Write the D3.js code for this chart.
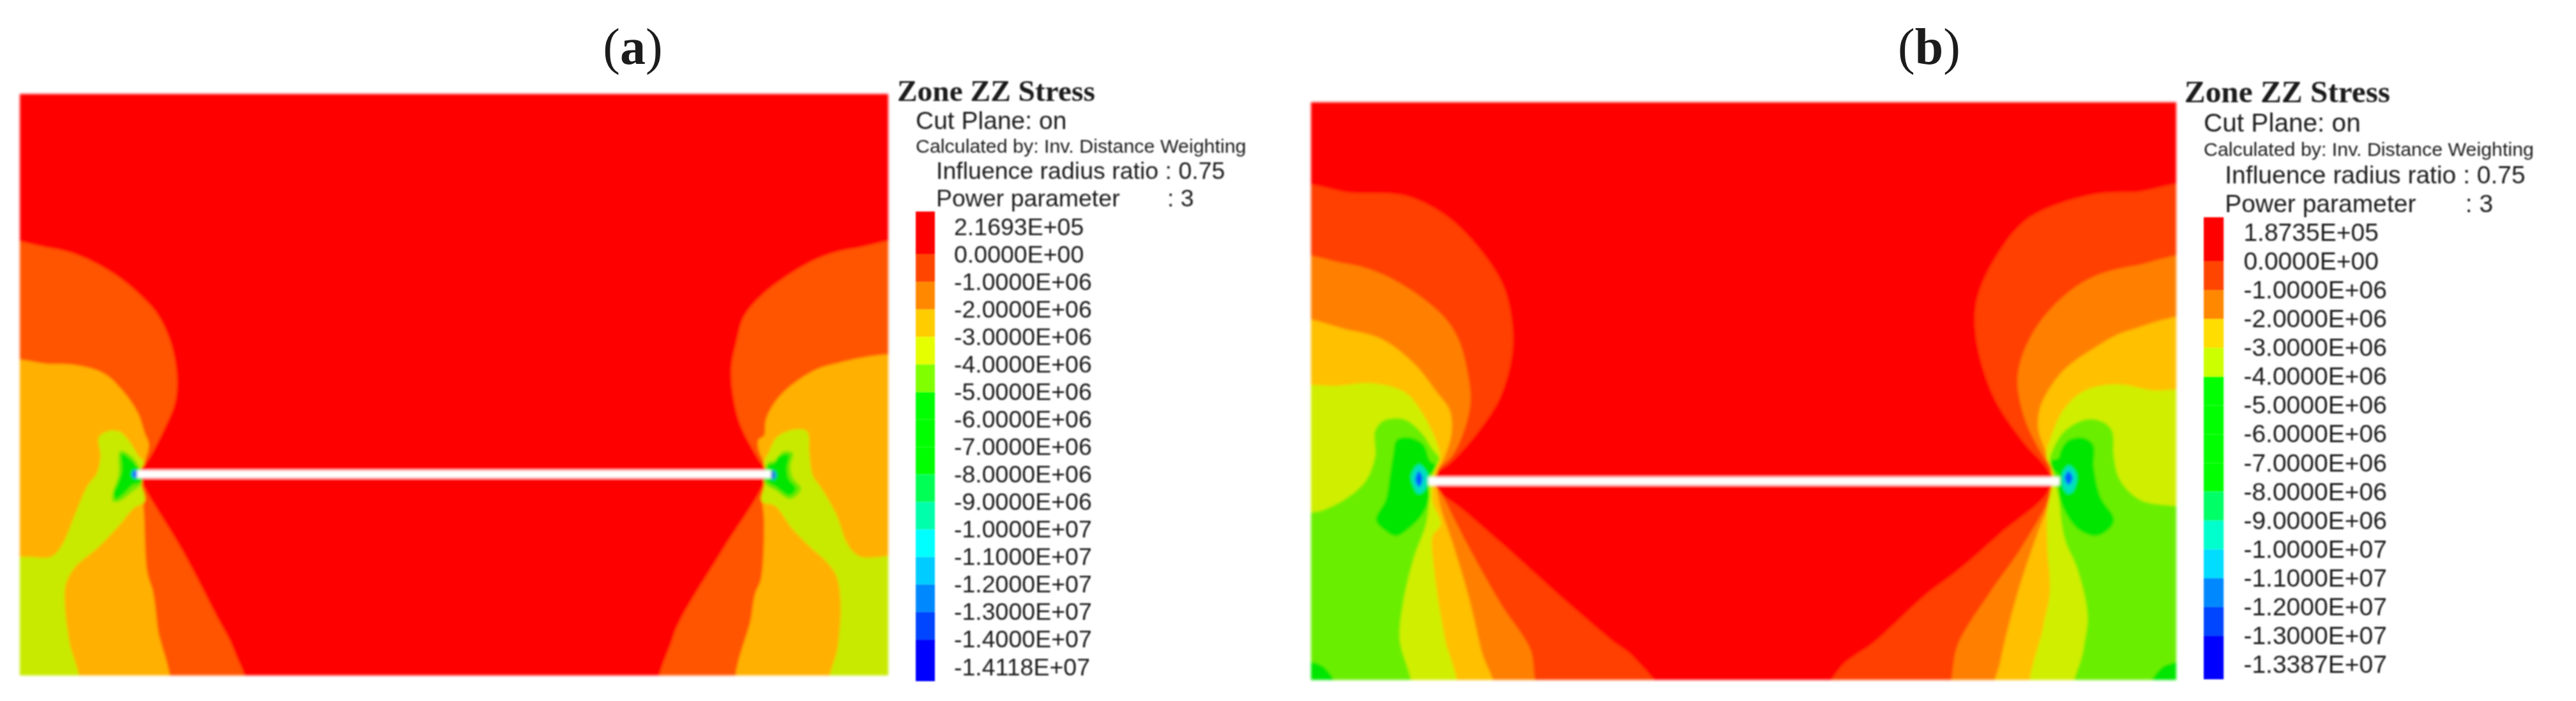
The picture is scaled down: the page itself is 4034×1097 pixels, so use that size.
<!DOCTYPE html>
<html>
<head>
<meta charset="utf-8">
<style>
  html, body { margin: 0; padding: 0; background: #fff; }
  text { fill: #1c1c1c; }
  .sans { font-family: "Liberation Sans", Arial, sans-serif; }
  .serif { font-family: "Liberation Serif", "Times New Roman", serif; }
</style>
<script src="https://cdn.jsdelivr.net/npm/d3@7"></script>
</head>
<body>
<svg id="chart" width="4034" height="1097"></svg>
<script>
// legend values
const aLabels = ['2.1693E+05', '0.0000E+00', '-1.0000E+06', '-2.0000E+06', '-3.0000E+06', '-4.0000E+06', '-5.0000E+06', '-6.0000E+06', '-7.0000E+06', '-8.0000E+06', '-9.0000E+06', '-1.0000E+07', '-1.1000E+07', '-1.2000E+07', '-1.3000E+07', '-1.4000E+07', '-1.4118E+07'];
const bLabels = ['1.8735E+05', '0.0000E+00', '-1.0000E+06', '-2.0000E+06', '-3.0000E+06', '-4.0000E+06', '-5.0000E+06', '-6.0000E+06', '-7.0000E+06', '-8.0000E+06', '-9.0000E+06', '-1.0000E+07', '-1.1000E+07', '-1.2000E+07', '-1.3000E+07', '-1.3387E+07'];
const aBarColors = ['#ff0000', '#ff4400', '#ff8800', '#ffcc00', '#e6ff00', '#80ff00', '#00ff00', '#00ff00', '#00ff00', '#00ff55', '#00ffaa', '#00ffff', '#00ccff', '#0088ff', '#0044ff', '#0000ff'];
const bBarColors = ['#ff0000', '#ff4400', '#ff8800', '#ffdd00', '#ccff00', '#00ff00', '#00ff00', '#00ff00', '#00ff00', '#00ff66', '#00ffcc', '#00ddff', '#0088ff', '#0044ff', '#0000ff'];

// contour outlines, model units, outermost band first
const aOrangeRedLeft = [[-20,553],[60,555],[100,575],[140,615],[170,660],[192,705],[208,770],[215,840],[213,900],[200,960],[185,1015],[172,1058],[173,1079],[223,1237],[262,1375],[285,1458],[297,1560],[-20,1560]];
const aOrangeRedRight = [[1125,553],[1040,556],[1000,575],[960,615],[925,665],[905,710],[897,760],[890,832],[899,941],[922,1025],[930,1049],[930,1079],[881,1227],[829,1385],[818,1434],[805,1560],[1125,1560]];
const aAmberLeft = [[-20,820],[62,815],[93,818],[127,837],[150,877],[168,926],[176,970],[181,995],[176,1034],[171,1052],[173,1098],[175,1148],[179,1280],[186,1325],[192,1409],[202,1560],[-20,1560]];
const aAmberRight = [[1125,817],[1010,817],[971,852],[945,896],[932,941],[930,975],[923,985],[923,1005],[930,1039],[932,1062],[928,1118],[930,1172],[926,1298],[919,1330],[914,1385],[900,1560],[1125,1560]];
const aYellowLeft = [[-20,1256],[31,1247],[62,1247],[75,1222],[91,1153],[106,1089],[118,1059],[122,1020],[120,980],[130,966],[145,966],[158,990],[168,1020],[175,1035],[171,1054],[171,1079],[176,1123],[163,1138],[145,1177],[119,1227],[91,1271],[80,1310],[79,1360],[84,1434],[95,1560],[-20,1560]];
const aYellowRight = [[1125,1256],[1046,1246],[1031,1217],[1018,1153],[1000,1094],[989,1064],[985,1015],[982,966],[963,963],[945,980],[935,1015],[930,1034],[932,1062],[930,1089],[927,1123],[943,1133],[963,1182],[984,1222],[1007,1261],[1018,1291],[1023,1350],[1020,1444],[1010,1560],[1125,1560]];
const aLimeLeft = [[146,1010],[159,1020],[171,1054],[172,1084],[163,1099],[145,1123],[137,1123],[137,1104],[144,1064]];
const aLimeRight = [[935,1036],[945,1030],[952,1012],[965,1014],[962,1045],[965,1070],[975,1095],[962,1118],[945,1100],[930,1080]];
const aGreenLeft = [[148,1016],[157,1025],[170,1054],[172,1080],[161,1087],[153,1102],[141,1118],[138,1105],[143,1084],[148,1054]];
const aGreenRight = [[933,1042],[942,1037],[947,1022],[960,1018],[958,1049],[960,1072],[969,1094],[961,1110],[945,1092],[933,1076],[937,1059]];
const aBlueLeft = [[164,1052],[168,1062],[164,1072],[160,1062]];
const aBlueRight = [[941,1053],[945,1064],[941,1075],[937,1064]];
const aCrack = [[167,1062],[938,1062]];

const bOrangeRedLeft = [[-20,427],[80,432],[142,438],[190,480],[230,550],[262,640],[273,730],[272,800],[258,890],[230,970],[195,1040],[172,1068],[172,1085],[207,1133],[259,1215],[311,1301],[349,1363],[395,1435],[420,1470],[455,1570],[-20,1570]];
const bOrangeRedRight = [[1125,427],[1030,430],[975,437],[900,490],[860,580],[840,660],[836,715],[841,791],[860,893],[893,985],[927,1062],[924,1103],[867,1194],[816,1276],[777,1330],[715,1435],[672,1495],[655,1570],[1125,1570]];
const bOrangeLeft = [[-20,585],[70,590],[110,610],[150,650],[190,710],[208,762],[220,850],[222,900],[215,960],[200,1020],[176,1068],[189,1113],[220,1225],[259,1352],[295,1454],[300,1515],[305,1570],[-20,1570]];
const bOrangeRight = [[1125,585],[1030,595],[980,620],[940,670],[905,750],[888,842],[896,934],[914,1006],[928,1052],[927,1108],[893,1225],[854,1327],[815,1444],[808,1515],[804,1570],[1125,1570]];
const bGoldLeft = [[-20,725],[77,740],[116,761],[155,817],[181,878],[197,919],[199,970],[191,1021],[181,1062],[184,1123],[202,1225],[220,1337],[235,1454],[250,1570],[-20,1570]];
const bGoldRight = [[1125,722],[1023,740],[984,776],[945,827],[924,878],[915,915],[913,960],[922,1011],[929,1052],[927,1118],[911,1200],[888,1327],[867,1480],[860,1570],[1125,1570]];
const bYellowLeft = [[-20,886],[64,863],[103,858],[142,878],[165,929],[184,1006],[185,1026],[178,1060],[176,1123],[186,1174],[176,1200],[178,1276],[186,1378],[191,1429],[202,1570],[-20,1570]];
const bYellowRight = [[1125,892],[1049,873],[1010,860],[971,873],[945,914],[929,975],[923,1021],[931,1057],[924,1148],[924,1225],[927,1327],[919,1403],[908,1570],[1125,1570]];
const bLimeLeft = [[-20,1165],[41,1143],[77,1108],[96,1072],[106,1021],[106,965],[116,942],[142,939],[163,970],[176,1006],[184,1026],[180,1046],[173,1072],[172,1118],[168,1174],[153,1250],[140,1352],[136,1429],[148,1570],[-20,1570]];
const bLimeRight = [[1125,1165],[1036,1118],[1012,1072],[1005,1021],[1003,965],[992,945],[971,939],[945,965],[931,1006],[927,1031],[932,1062],[937,1103],[945,1205],[961,1276],[973,1378],[968,1454],[958,1570],[1125,1570]];
const bGreenLeft = [[132,985],[147,979],[165,995],[173,1031],[180,1041],[177,1057],[171,1067],[172,1113],[165,1148],[153,1174],[132,1200],[119,1189],[107,1164],[119,1118],[124,1062],[128,1016]];
const bGreenRight = [[950,985],[968,980],[980,995],[981,1047],[989,1113],[1005,1159],[1003,1177],[984,1200],[961,1184],[945,1143],[937,1097],[939,1067],[929,1047],[929,1031],[937,1026],[941,1006]];
const bCornerLeft = [[-20,1560],[-20,1490],[36,1485],[52,1510],[62,1560]];
const bCornerRight = [[1125,1560],[1125,1480],[1074,1485],[1060,1500],[1045,1560]];
const bCyanLeft = [[159,1040],[167,1052],[171,1072],[165,1100],[158,1105],[152,1085],[150,1065]];
const bCyanRight = [[950,1042],[958,1055],[960,1072],[955,1100],[949,1105],[942,1085],[942,1062]];
const bBlueLeft = [[159,1055],[164,1070],[160,1090],[155,1075]];
const bBlueRight = [[950,1055],[955,1070],[950,1085],[945,1070]];
const bCrack = [[171,1077],[939,1077]];

const svg = d3.select('#chart');
const defs = svg.append('defs');
defs.append('filter').attr('id', 'soft').attr('x', '-2%').attr('y', '-2%').attr('width', '104%').attr('height', '104%')
  .append('feGaussianBlur').attr('stdDeviation', 2.2);
defs.append('filter').attr('id', 'softText').attr('x', '-5%').attr('y', '-5%').attr('width', '110%').attr('height', '110%')
  .append('feGaussianBlur').attr('stdDeviation', 0.9);

function drawPanel(p) {
  const x = d3.scaleLinear().domain(p.xDomain).range(p.xRange);
  const y = d3.scaleLinear().domain(p.yDomain).range(p.yRange);
  const outline = d3.line().x(d => x(d[0])).y(d => y(d[1])).curve(d3.curveCatmullRomClosed.alpha(0.5));

  defs.append('clipPath').attr('id', 'clip' + p.id).append('rect')
    .attr('x', p.xRange[0]).attr('y', p.yRange[0])
    .attr('width', p.xRange[1] - p.xRange[0]).attr('height', p.yRange[1] - p.yRange[0]);

  const map = svg.append('g').attr('filter', 'url(#soft)')
    .append('g').attr('clip-path', 'url(#clip' + p.id + ')');
  map.append('rect').attr('x', p.xRange[0]).attr('y', p.yRange[0])
    .attr('width', p.xRange[1] - p.xRange[0]).attr('height', p.yRange[1] - p.yRange[0])
    .attr('fill', '#ff0000');
  map.selectAll('path.band').data(p.bands).join('path').attr('class', 'band')
    .attr('d', d => outline(d.points)).attr('fill', d => d.color);
  map.append('line')
    .attr('x1', x(p.crack[0][0])).attr('y1', y(p.crack[0][1]))
    .attr('x2', x(p.crack[1][0])).attr('y2', y(p.crack[1][1]))
    .attr('stroke', '#fff').attr('stroke-width', p.crackWidth);

  // panel letter, bold inside plain brackets
  const letter = svg.append('text').attr('class', 'serif').attr('x', p.letterX).attr('y', 100)
    .attr('text-anchor', 'middle').attr('font-size', 80);
  letter.append('tspan').text('(');
  letter.append('tspan').attr('font-weight', 'bold').text(p.letter);
  letter.append('tspan').text(')');

  // legend
  const lg = svg.append('g').attr('filter', 'url(#softText)');
  const k = p.legendScale;
  lg.append('text').attr('class', 'serif').attr('x', p.legendX - 29 * k).attr('y', p.legendTop - 173 * k)
    .attr('font-weight', 'bold').attr('font-size', 47.4 * k).text('Zone ZZ Stress');
  const note = (txt, dx, dy, size) => lg.append('text').attr('class', 'sans')
    .attr('x', p.legendX + dx * k).attr('y', p.legendTop + dy * k).attr('font-size', size * k).text(txt);
  note('Cut Plane: on', 0, -129, 39);
  note('Calculated by: Inv. Distance Weighting', 0, -92, p.calcSize);
  note('Influence radius ratio : 0.75', 32, -51, 37.5);
  note('Power parameter', 32, -8, 37.5);
  note(': 3', 394, -8, 37.5);

  const yBar = d3.scalePoint().domain(p.labels).range(p.labelRange);
  const barW = 30 * k;
  const edge = (i) => {
    if (i === 0) return p.legendTop;
    if (i === p.labels.length - 1) return p.legendBottom;
    return yBar(p.labels[i]);
  };
  lg.selectAll('rect.seg').data(p.barColors).join('rect').attr('class', 'seg')
    .attr('x', p.legendX).attr('width', barW)
    .attr('y', (d, i) => edge(i)).attr('height', (d, i) => edge(i + 1) - edge(i))
    .attr('fill', d => d);

  const axis = d3.axisRight(yBar).tickSize(0).tickPadding(60 * k);
  const ag = lg.append('g').attr('class', 'sans').attr('transform', 'translate(' + p.legendX + ',0)').call(axis);
  ag.select('.domain').remove();
  ag.selectAll('text').attr('font-size', 37.5 * k).attr('font-family', '"Liberation Sans", Arial, sans-serif');
}

drawPanel({
  id: 'A', letter: 'a', letterX: 991,
  xDomain: [24, 1081], yDomain: [210, 1513], xRange: [31, 1391], yRange: [147, 1057],
  crack: aCrack, crackWidth: 12,
  bands: [
    { points: aOrangeRedLeft, color: '#ff5500' }, { points: aOrangeRedRight, color: '#ff5500' },
    { points: aAmberLeft, color: '#ffb000' }, { points: aAmberRight, color: '#ffb000' },
    { points: aYellowLeft, color: '#c8ea00' }, { points: aYellowRight, color: '#c8ea00' },
    { points: aLimeLeft, color: '#70e800' }, { points: aLimeRight, color: '#70e800' },
    { points: aGreenLeft, color: '#00e600' }, { points: aGreenRight, color: '#00e600' },
    { points: aBlueLeft, color: '#1a80ff' }, { points: aBlueRight, color: '#1a90e0' }
  ],
  labels: aLabels, barColors: aBarColors, labelRange: [355, 1044], calcSize: 30.4,
  legendX: 1434, legendTop: 331, legendBottom: 1066, legendScale: 1
});

drawPanel({
  id: 'B', letter: 'b', letterX: 3021,
  xDomain: [28, 1081], yDomain: [229, 1522], xRange: [2053, 3408], yRange: [160, 1064],
  crack: bCrack, crackWidth: 13,
  bands: [
    { points: bOrangeRedLeft, color: '#ff4000' }, { points: bOrangeRedRight, color: '#ff4000' },
    { points: bOrangeLeft, color: '#ff8000' }, { points: bOrangeRight, color: '#ff8000' },
    { points: bGoldLeft, color: '#ffc000' }, { points: bGoldRight, color: '#ffc000' },
    { points: bYellowLeft, color: '#d0ee00' }, { points: bYellowRight, color: '#d0ee00' },
    { points: bLimeLeft, color: '#6aee00' }, { points: bLimeRight, color: '#6aee00' },
    { points: bGreenLeft, color: '#00e600' }, { points: bGreenRight, color: '#00e600' },
    { points: bCornerLeft, color: '#00e600' }, { points: bCornerRight, color: '#00e600' },
    { points: bCyanLeft, color: '#00e0c0' }, { points: bCyanRight, color: '#00e0c0' },
    { points: bBlueLeft, color: '#0060ff' }, { points: bBlueRight, color: '#0060ff' }
  ],
  labels: bLabels, barColors: bBarColors, labelRange: [364, 1040], calcSize: 29.2,
  legendX: 3451, legendTop: 340, legendBottom: 1063, legendScale: 1.04
});
</script>
</body>
</html>
